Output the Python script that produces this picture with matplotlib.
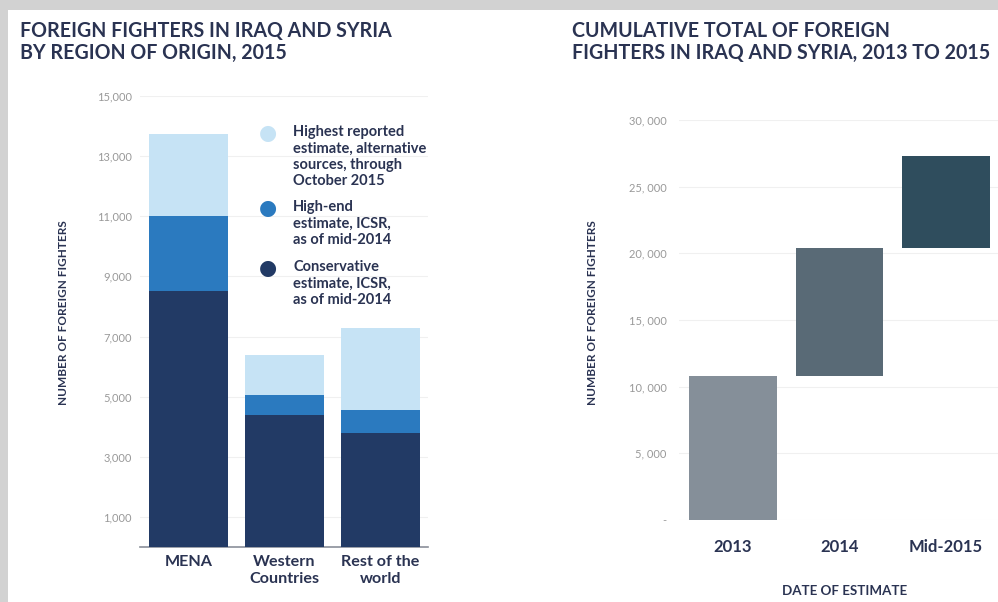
import matplotlib
matplotlib.use("Agg")
import matplotlib.pyplot as plt
from matplotlib.patches import Rectangle
from matplotlib.ticker import FuncFormatter

# ---- data ----
regions = ["MENA", "Western\nCountries", "Rest of the\nworld"]
conservative = [8500, 4400, 3800]
high_end = [11000, 5050, 4550]
highest = [13750, 6400, 7300]
region_ticks = [1000, 3000, 5000, 7000, 9000, 11000, 13000, 15000]

dates = ["2013", "2014", "Mid-2015"]
cum_low = [0, 10800, 20400]
cum_high = [10800, 20400, 27300]
cum_ticks = [0, 5000, 10000, 15000, 20000, 25000, 30000]

legend_labels = [
    "Highest reported\nestimate, alternative\nsources, through\nOctober 2015",
    "High-end\nestimate, ICSR,\nas of mid-2014",
    "Conservative\nestimate, ICSR,\nas of mid-2014",
]

c_light, c_mid, c_dark = "#c6e3f5", "#2b7abf", "#223a65"
right_colors = ["#858f99", "#596a76", "#2f4d5d"]
navy = "#2a3352"
tick_gray = "#999999"
FONT = "Lato"

W, H = 998, 602
fig = plt.figure(figsize=(W / 100, H / 100), dpi=100)
fig.patch.set_facecolor("#d2d2d2")
fig.patches.append(Rectangle((8 / W, 0), 1, 1 - 10 / H, transform=fig.transFigure,
                             facecolor="white", edgecolor="none", zorder=-10))

title_font = dict(family=FONT, weight="bold", color=navy, fontsize=14.1)
fig.text(20 / W, 1 - 31 / H, "FOREIGN FIGHTERS IN IRAQ AND SYRIA", va="center", ha="left", **title_font)
fig.text(20 / W, 1 - 53 / H, "BY REGION OF ORIGIN, 2015", va="center", ha="left", **title_font)
fig.text(572 / W, 1 - 31 / H, "CUMULATIVE TOTAL OF FOREIGN", va="center", ha="left", **title_font)
fig.text(572 / W, 1 - 53 / H, "FIGHTERS IN IRAQ AND SYRIA, 2013 TO 2015", va="center", ha="left", **title_font)

# ---- left chart ----
axL = fig.add_axes([140 / W, (H - 547) / H, 288 / W, (547 - 96) / H])
x = list(range(len(regions)))
bw = 0.82
axL.bar(x, conservative, width=bw, color=c_dark, zorder=3)
axL.bar(x, [h - c for h, c in zip(high_end, conservative)], bottom=conservative, width=bw, color=c_mid, zorder=3)
axL.bar(x, [t - h for t, h in zip(highest, high_end)], bottom=high_end, width=bw, color=c_light, zorder=3)
axL.set_xlim(-0.505, 2.495)
axL.set_ylim(0, 15000)
axL.set_yticks(region_ticks)
axL.yaxis.set_major_formatter(FuncFormatter(lambda v, p: f"{int(v):,}"))
axL.grid(axis="y", color="#f0f0f0", linewidth=0.8, zorder=0)
axL.set_xticks(x)
axL.set_xticklabels(regions, family=FONT, weight="bold", color=navy, fontsize=11.6,
                    linespacing=1.2)
for s in ["top", "right", "left"]:
    axL.spines[s].set_visible(False)
axL.spines["bottom"].set_color("#8a8f99")
axL.spines["bottom"].set_linewidth(1.2)
axL.tick_params(axis="y", length=0, pad=6, labelsize=8.0, labelcolor=tick_gray)
axL.tick_params(axis="x", length=0, pad=6)
for lab in axL.get_yticklabels():
    lab.set_family(FONT)
fig.text(64 / W, 1 - 313 / H, "NUMBER OF FOREIGN FIGHTERS", rotation=90, ha="center", va="center",
         family=FONT, weight="bold", color=navy, fontsize=8.5)

# legend
leg_y = [133, 208, 268]
for yy, col, lab in zip(leg_y, [c_light, c_mid, c_dark], legend_labels):
    fig.text(268 / W, 1 - yy / H, "\u25CF", color=col, fontsize=15, ha="center", va="center",
             family="DejaVu Sans")
    fig.text(293 / W, 1 - (yy - 8) / H, lab, ha="left", va="top", family=FONT,
             weight="bold", color=navy, fontsize=10.5, linespacing=1.22)

# ---- right chart ----
axR = fig.add_axes([679 / W, (H - 520) / H, (W - 679) / W, 400 / H])
xr = list(range(len(dates)))
axR.bar(xr, [h - l for h, l in zip(cum_high, cum_low)], bottom=cum_low, width=bw,
        color=right_colors, zorder=3)
axR.set_xlim(-0.507, 2.488)
axR.set_ylim(0, 30000)
axR.set_yticks(cum_ticks)
axR.yaxis.set_major_formatter(FuncFormatter(lambda v, p: "-" if v == 0 else f"{int(v):,}".replace(",", ", ")))
axR.grid(axis="y", color="#f0f0f0", linewidth=0.8, zorder=0)
axR.set_xticks(xr)
axR.set_xticklabels(dates, family=FONT, weight="bold", color=navy, fontsize=12)
for s in ["top", "right", "left", "bottom"]:
    axR.spines[s].set_visible(False)
axR.tick_params(axis="y", length=0, pad=9, labelsize=8.0, labelcolor=tick_gray)
axR.tick_params(axis="x", length=0, pad=14)
for lab in axR.get_yticklabels():
    lab.set_family(FONT)
fig.text(592 / W, 1 - 313 / H, "NUMBER OF FOREIGN FIGHTERS", rotation=90, ha="center", va="center",
         family=FONT, weight="bold", color=navy, fontsize=8.5)
fig.text(845 / W, 1 - 591 / H, "DATE OF ESTIMATE", ha="center", va="center",
         family=FONT, weight="bold", color=navy, fontsize=9.6)

fig.savefig("out.png", dpi=100, facecolor=fig.get_facecolor())
